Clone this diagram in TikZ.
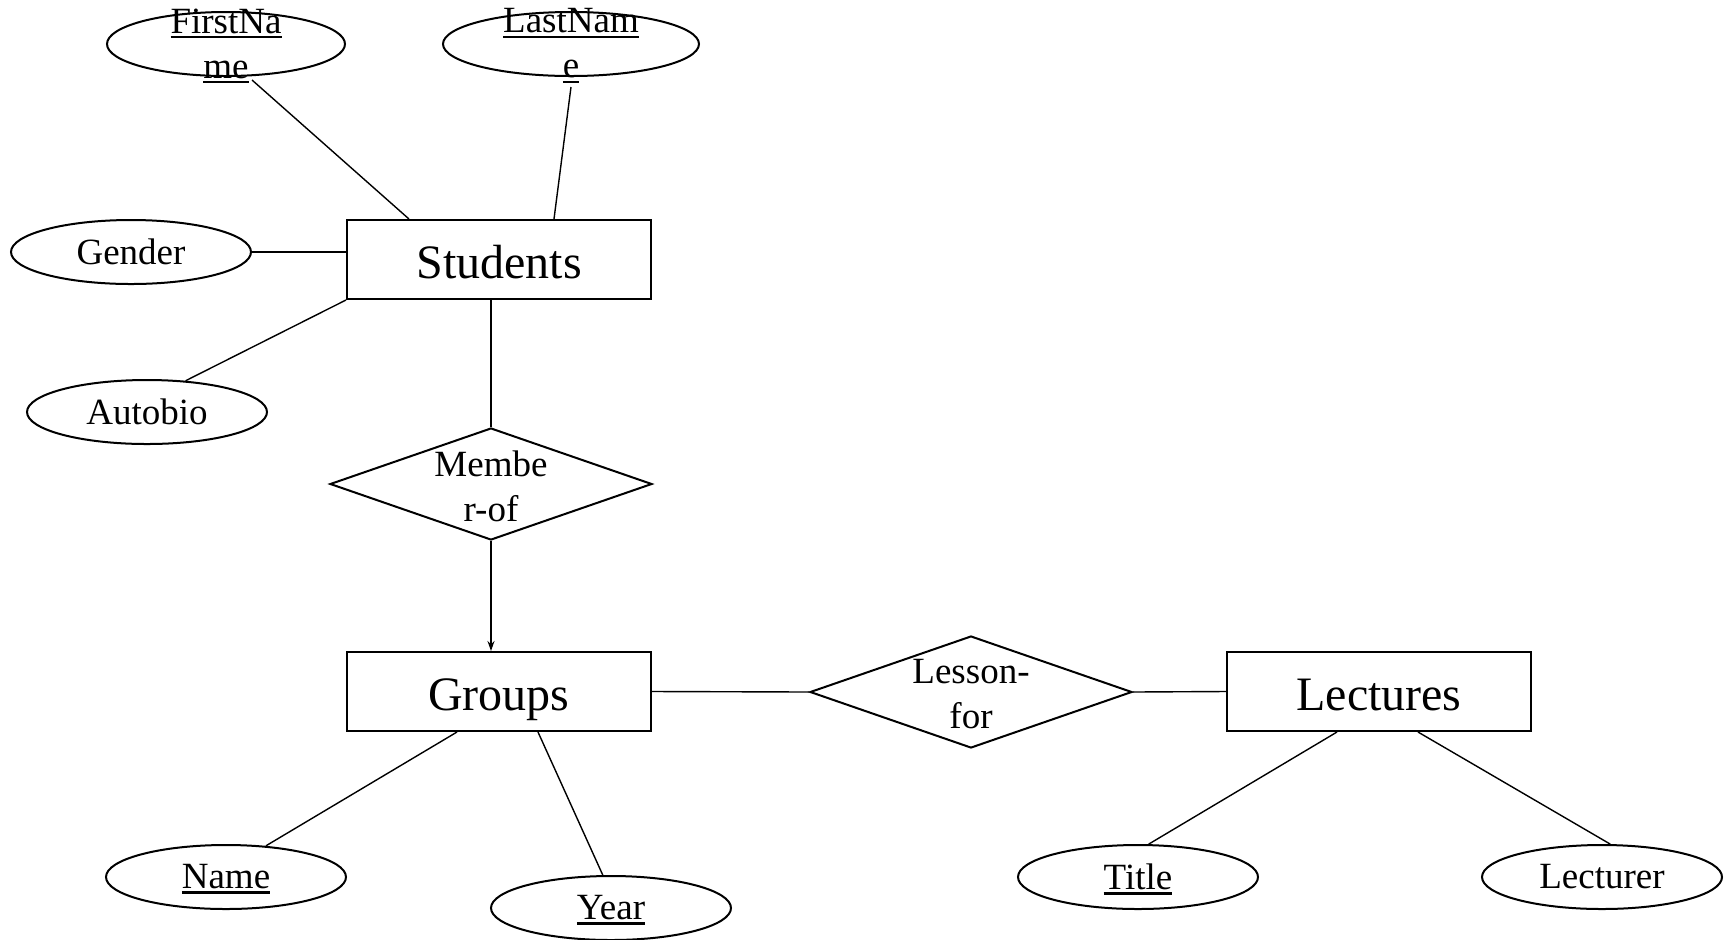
\documentclass[tikz,border=0pt]{standalone}
\usepackage{fontspec}
\setmainfont{Liberation Serif}
\usetikzlibrary{shapes.geometric,arrows.meta}

% key attributes: underlined with a solid bar
\newcommand\keyattr[1]{\leavevmode\vtop{\hbox{#1}\kern1.3pt\hrule height 1.2pt}}

\begin{document}
\begin{tikzpicture}[x=0.5pt,y=-0.5pt,
  entity/.style={draw,line width=1pt,rectangle,minimum width=152pt,minimum height=39.5pt,
    inner sep=0pt,text height=18.5pt,text depth=0pt,font=\fontsize{24}{29}\selectfont},
  attr/.style={draw,line width=1pt,ellipse,minimum width=120pt,minimum height=32pt,inner sep=0pt},
  relation/.style={draw,line width=1pt,diamond,minimum width=161pt,minimum height=56pt,inner sep=0pt},
  label/.style={align=center,inner sep=0pt,font=\fontsize{18.5}{22.5}\selectfont},
  link/.style={line width=0.7pt},
]
\useasboundingbox (0,0) rectangle (1731,939);

% entities
\node[entity] (st) at (499,259.5) {Students};
\node[entity] (gr) at (499,691.5) {Groups};
\node[entity] (lc) at (1379,691.5) {Lectures};

% relationships
\node[relation] (md) at (491,484) {};
\node[label] (mdt) at (491,486) {Membe\\r-of};
\node[relation] (lf) at (971,692) {};
\node[label] (lft) at (971,694) {Lesson-\\for};

% attributes
\node[attr,minimum width=119pt] (fn) at (226,44) {};
\node[label] (fnt) at (226,46) {\keyattr{FirstNa}\\\keyattr{me}};
\node[attr,minimum width=128pt] (ln) at (571,44) {};
\node[label] (lnt) at (571,46) {\keyattr{LastNam}\\\keyattr{e}};
\node[attr] (ge) at (131,252) {};
\node[label] (get) at (131,252) {Gender};
\node[attr] (au) at (147,412) {};
\node[label] (aut) at (147,412) {Autobio};
\node[attr] (nm) at (226,877) {};
\node[label] (nmt) at (226,879) {\keyattr{Name}};
\node[attr] (yr) at (611,908) {};
\node[label] (yrt) at (611,910) {\keyattr{Year}};
\node[attr] (ti) at (1138,877) {};
\node[label] (tit) at (1138,879) {\keyattr{Title}};
\node[attr] (le) at (1602,877) {};
\node[label] (let) at (1602,877) {Lecturer};

% attribute links
\draw[link] ([xshift=13pt,yshift=-1.5pt]fn.south) -- ([xshift=31.5pt]st.north west);
\draw[link] ([yshift=-5pt]ln.south) -- ([xshift=104pt]st.north west);
\draw[link] (ge.east) -- (ge.east -| st.west);
\draw[link] (au.39) -- (st.south west);
\draw[link] (nm.38) -- ([xshift=55.5pt]gr.south west);
\draw[link] (yr.104) -- ([xshift=96pt]gr.south west);
\draw[link] (ti.72) -- ([xshift=55.5pt]lc.south west);
\draw[link] (le.76) -- ([xshift=96pt]lc.south west);

% relationship links
\draw[link] (md.north |- st.south) -- (md.north);
\draw[link,-{Stealth[length=5pt,width=3.5pt]}] (md.south) -- (md.south |- gr.north);
\draw[link] (gr.east) -- (lf.west);
\draw[link] (lf.east) -- (lc.west);
\end{tikzpicture}
\end{document}
